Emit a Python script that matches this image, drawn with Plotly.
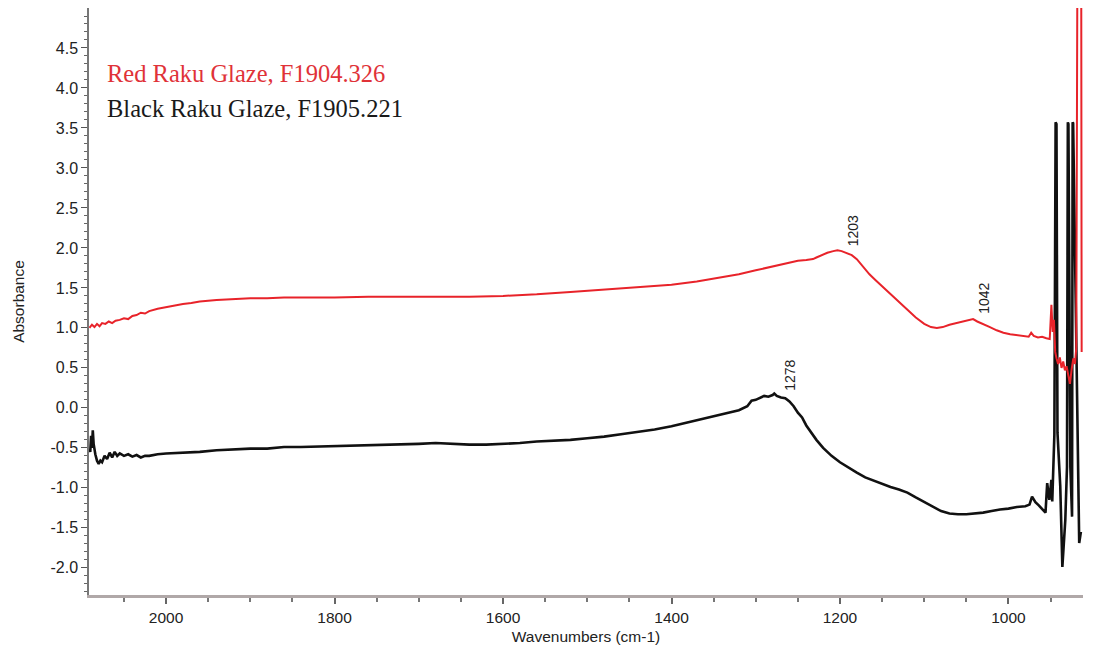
import plotly.graph_objects as go

# ---- Data ----
red_wn = [2091, 2088, 2085, 2082, 2079, 2076, 2072, 2068, 2064, 2060, 2055, 2050, 2045, 2040, 2035,
          2030, 2025, 2020, 2010, 2000, 1990, 1980, 1970, 1960, 1940, 1920, 1900, 1880, 1860, 1840,
          1800, 1760, 1720, 1680, 1640, 1600, 1560, 1520, 1480, 1440, 1400, 1370, 1340, 1320, 1300,
          1280, 1260, 1250, 1240, 1232, 1228, 1222, 1215, 1208, 1203, 1198, 1192, 1186, 1180, 1172,
          1165, 1158, 1150, 1140, 1130, 1120, 1110, 1100, 1092, 1085, 1078, 1070, 1062, 1055, 1048,
          1042, 1037, 1030, 1022, 1014, 1006, 998, 990, 982, 976, 973, 970, 965, 960, 955, 951,
          949, 947.5, 946, 944.5, 943, 941, 939, 937, 935, 933, 931, 929, 927, 925, 923, 921, 919.5,
          918.2, 913.6, 913.1]
red_abs = [1.00, 1.04, 1.01, 1.05, 1.02, 1.06, 1.05, 1.08, 1.06, 1.09, 1.10, 1.12, 1.11, 1.15, 1.16,
           1.19, 1.18, 1.21, 1.24, 1.26, 1.28, 1.30, 1.31, 1.33, 1.35, 1.36, 1.37, 1.37, 1.38, 1.38,
           1.38, 1.39, 1.39, 1.39, 1.39, 1.40, 1.42, 1.45, 1.48, 1.51, 1.54, 1.58, 1.63, 1.67, 1.72,
           1.77, 1.82, 1.84, 1.85, 1.86, 1.88, 1.91, 1.94, 1.96, 1.97, 1.96, 1.93, 1.91, 1.86, 1.76,
           1.67, 1.60, 1.52, 1.42, 1.32, 1.22, 1.13, 1.05, 1.01, 1.00, 1.01, 1.04, 1.06, 1.07, 1.09,
           1.11, 1.08, 1.05, 1.01, 0.97, 0.94, 0.92, 0.91, 0.90, 0.89, 0.94, 0.90, 0.88, 0.89, 0.87, 0.86,
           1.29, 0.95, 1.10, 0.70, 0.62, 0.55, 0.63, 0.50, 0.58, 0.47, 0.52, 0.38, 0.30, 0.48, 0.62, 0.55, 0.75,
           5.40, 5.40, 0.70]

black_wn = [2091, 2090, 2089, 2088, 2087, 2086, 2084, 2082, 2080, 2078, 2076, 2073, 2070, 2067, 2064,
            2061, 2058, 2055, 2050, 2045, 2040, 2035, 2030, 2025, 2020, 2010, 2000, 1980, 1960, 1940,
            1920, 1900, 1880, 1860, 1840, 1800, 1760, 1720, 1700, 1680, 1660, 1640, 1620, 1600, 1580,
            1560, 1540, 1520, 1500, 1480, 1460, 1440, 1420, 1400, 1380, 1360, 1350, 1340, 1330, 1320,
            1310, 1305, 1300, 1295, 1290, 1285, 1280, 1278, 1275, 1270, 1265, 1260, 1255, 1250, 1245,
            1240, 1235, 1228, 1220, 1210, 1200, 1190, 1180, 1170, 1160, 1150, 1140, 1130, 1120, 1110,
            1100, 1090, 1080, 1070, 1060, 1050, 1040, 1030, 1020, 1010, 1000, 990, 980, 975, 972, 968,
            964, 960, 956, 954, 951.5, 949, 948, 945.5, 944, 943, 941.8, 938.5, 936, 932.5, 930.5,
            929.5, 928.8, 926.5, 924.5, 923.8, 923.2, 916, 914]
black_abs = [-0.52, -0.55, -0.35, -0.50, -0.28, -0.45, -0.58, -0.66, -0.70, -0.66, -0.68, -0.60, -0.64, -0.56, -0.62,
             -0.55, -0.60, -0.57, -0.60, -0.58, -0.61, -0.59, -0.62, -0.60, -0.60, -0.58, -0.57, -0.56, -0.55, -0.53,
             -0.52, -0.51, -0.51, -0.49, -0.49, -0.48, -0.47, -0.46, -0.45, -0.44, -0.45, -0.46, -0.46, -0.45, -0.44,
             -0.42, -0.41, -0.40, -0.38, -0.36, -0.33, -0.30, -0.27, -0.23, -0.18, -0.13, -0.10, -0.08, -0.05, -0.03,
             0.02, 0.09, 0.10, 0.12, 0.15, 0.14, 0.16, 0.18, 0.15, 0.13, 0.12, 0.08, 0.02, -0.06, -0.12,
             -0.22, -0.30, -0.40, -0.50, -0.60, -0.68, -0.75, -0.81, -0.87, -0.91, -0.95, -0.99, -1.02, -1.06, -1.12,
             -1.18, -1.24, -1.29, -1.32, -1.33, -1.33, -1.32, -1.31, -1.29, -1.27, -1.26, -1.24, -1.23, -1.21, -1.11, -1.18,
             -1.22, -1.26, -1.31, -0.94, -1.15, -0.90, -1.17, -0.34, 3.57, 3.55, -0.31, -0.98, -1.99, -1.40, -0.74,
             3.57, 3.55, -0.74, -1.36, 3.57, 3.56, -1.69, -1.55]

y_tickvals = [4.5, 4.0, 3.5, 3.0, 2.5, 2.0, 1.5, 1.0, 0.5, 0.0, -0.5, -1.0, -1.5, -2.0]
y_ticktext = ["4.5", "4.0", "3.5", "3.0", "2.5", "2.0", "1.5", "1.0", "0.5", "0.0", "-0.5", "-1.0", "-1.5", "-2.0"]
x_tickvals = [2000, 1800, 1600, 1400, 1200, 1000]

peak_labels = ["1203", "1042", "1278"]
peak_wn = [1203, 1042, 1278]
peak_abs = [1.97, 1.12, 0.16]

series_names = ["Red Raku Glaze, F1904.326", "Black Raku Glaze, F1905.221"]

RED = "#e8232a"
BLACK = "#111111"

# page has an 8px body margin; figure sized so it fills the rest of the 1107x656 window
OFF = 8
W, H = 1107 - OFF, 656 - OFF
# plot-area edges in window pixels
PL, PR, PT, PB = 89, 1083, 8, 595
L, R, T, B = PL - OFF, 1107 - PR, PT - OFF, 656 - PB
pw, ph = W - L - R, H - T - B

fig = go.Figure()
fig.add_trace(go.Scatter(x=black_wn, y=black_abs, mode="lines", name=series_names[1],
                         line=dict(color=BLACK, width=2.6)))
fig.add_trace(go.Scatter(x=red_wn, y=red_abs, mode="lines", name=series_names[0],
                         line=dict(color=RED, width=2)))

for lab, wx, wy, xs in zip(peak_labels, peak_wn, peak_abs, [15, 11, 15]):
    fig.add_annotation(x=wx, y=wy, xref="x", yref="y", text=lab, textangle=-90,
                       showarrow=False, xshift=xs, yanchor="bottom", yshift=2,
                       font=dict(family="Liberation Sans, Arial", size=14, color="#222"))

legend_px = [(105, 74), (105, 108)]
legend_colors = ["#e03238", "#1a1a1a"]
for name, (px, py), col in zip(series_names, legend_px, legend_colors):
    fig.add_annotation(x=(px - PL) / pw, y=1 - (py - PT) / ph, xref="paper", yref="paper", text=name,
                       showarrow=False, xanchor="left", yanchor="middle",
                       font=dict(family="Liberation Serif, Times New Roman", size=24.5, color=col))

fig.update_layout(
    width=W, height=H,
    margin=dict(l=L, r=R, t=T, b=B, autoexpand=False),
    paper_bgcolor="white", plot_bgcolor="white",
    showlegend=False,
    font=dict(family="Liberation Sans, Arial", size=16, color="#222"),
    xaxis=dict(range=[2091.5, 911.5], tickvals=x_tickvals, ticks="outside", ticklen=6,
               tickcolor="#666", tickwidth=1.5, showgrid=False, zeroline=False, automargin=False,
               showline=True, linecolor="#b0a8a8", linewidth=3,
               minor=dict(dtick=50, ticks="outside", ticklen=4, tickcolor="#777"),
               title=dict(text="Wavenumbers (cm-1)", font=dict(size=15.5), standoff=7),
               tickfont=dict(size=15.5)),
    yaxis=dict(range=[-2.34, 5.0], tickvals=y_tickvals, ticktext=y_ticktext, ticks="outside",
               ticklen=6, tickcolor="#555", showgrid=False, zeroline=False, automargin=False,
               showline=True, linecolor="#777", linewidth=1.5,
               minor=dict(tickvals=[v / 10 for v in range(-23, 50)], ticks="outside", ticklen=3, tickcolor="#666"),
               title=dict(text="Absorbance", font=dict(size=15.5), standoff=22),
               tickfont=dict(size=16)),
)

fig.write_html("out.html")
